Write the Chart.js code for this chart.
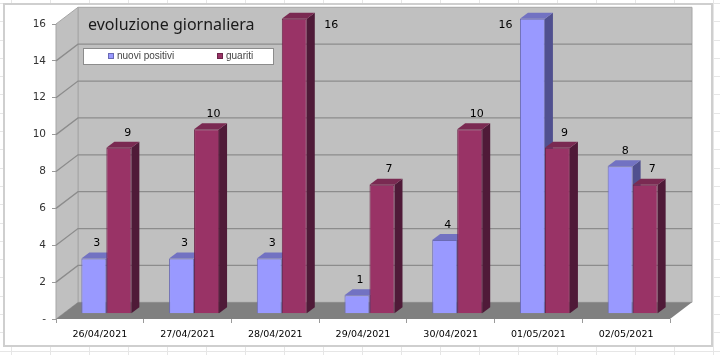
<!DOCTYPE html>
<html>
<head>
<meta charset="utf-8">
<script src="https://cdn.jsdelivr.net/npm/chart.js@4"></script>
<style>
html, body { margin: 0; padding: 0; }
body {
  width: 720px; height: 355px; overflow: hidden; position: relative; background-color: #fff;
  background-image:
    repeating-linear-gradient(to right, transparent 0 11px, #e6e6e6 11px 12px, transparent 12px 39px),
    repeating-linear-gradient(to bottom, transparent 0 3px, #e6e6e6 3px 4px, transparent 4px 18.3px);
}
#frame { position: absolute; left: 3px; top: 3px; width: 706px; height: 340px; background: #fff; border: 2px solid #cfcfcf; }
#myChart { position: absolute; left: 0; top: 0; }
</style>
</head>
<body>
<div id="frame"></div>
<canvas id="myChart" width="720" height="355"></canvas>
<script>
const days = ["26/04/2021","27/04/2021","28/04/2021","29/04/2021","30/04/2021","01/05/2021","02/05/2021"];
const nuoviPositivi = [3,3,3,1,4,16,8];
const guariti = [9,10,16,7,10,9,7];
const titleText = "evoluzione giornaliera";

// depth of the fake 3d box and of the bars inside it
const wallDX = 22, wallDY = -16.7;
const barShiftX = 6.5, barShiftY = -5.3;
const barDX = 8, barDY = -6;

const faces = [
  {side: "#50508f", top: "#7272c2"},
  {side: "#4f1a38", top: "#7a2a52"}
];
// value labels sit off to the side of the bar, the two 16s even more
const labelOffset = [[3,-15],[7,-15]];
const labelOverride = {"0-5": [-27,6], "1-2": [37,6], "0-6": [5,-15], "1-0": [9,-15]};

function poly(ctx, pts, fill, stroke) {
  ctx.beginPath();
  pts.forEach((p,i) => i ? ctx.lineTo(p[0],p[1]) : ctx.moveTo(p[0],p[1]));
  ctx.closePath();
  ctx.fillStyle = fill;
  ctx.fill();
  if (stroke) { ctx.strokeStyle = stroke; ctx.lineWidth = 1; ctx.stroke(); }
}

const box3d = {
  id: "box3d",
  beforeDraw(chart) {
    const ctx = chart.ctx, a = chart.chartArea, y = chart.scales.y;
    ctx.save();
    // back wall, side wall, floor
    poly(ctx, [[a.left+wallDX,a.top+wallDY],[a.right+wallDX,a.top+wallDY],[a.right+wallDX,a.bottom+wallDY],[a.left+wallDX,a.bottom+wallDY]], "#c0c0c0", "#a6a6a6");
    poly(ctx, [[a.left,a.top],[a.left+wallDX,a.top+wallDY],[a.left+wallDX,a.bottom+wallDY],[a.left,a.bottom]], "#c0c0c0", "#a6a6a6");
    ctx.strokeStyle = "#8c8c8c";
    ctx.lineWidth = 1.3;
    y.ticks.forEach(t => {
      const py = y.getPixelForValue(t.value);
      if (t.value === 0 || t.value === 16) return;
      ctx.beginPath();
      ctx.moveTo(a.left, py);
      ctx.lineTo(a.left+wallDX, py+wallDY);
      ctx.lineTo(a.right+wallDX, py+wallDY);
      ctx.stroke();
    });
    poly(ctx, [[a.left,a.bottom],[a.right,a.bottom],[a.right+wallDX,a.bottom+wallDY],[a.left+wallDX,a.bottom+wallDY]], "#808080");
    ctx.restore();
  },
  beforeDatasetsDraw(chart) {
    const ctx = chart.ctx;
    ctx.save();
    ctx.translate(barShiftX, barShiftY);
    // side and top faces first, the library paints the fronts over them
    chart.data.datasets.forEach((ds, d) => {
      const f = faces[d];
      chart.getDatasetMeta(d).data.forEach(bar => {
        const l = bar.x - bar.width/2, r = bar.x + bar.width/2;
        poly(ctx, [[r,bar.y],[r+barDX,bar.y+barDY],[r+barDX,bar.base+barDY],[r,bar.base]], f.side);
        poly(ctx, [[l,bar.y],[l+barDX,bar.y+barDY],[r+barDX,bar.y+barDY],[r,bar.y]], f.top);
      });
    });
  },
  afterDatasetsDraw(chart) {
    const ctx = chart.ctx;
    ctx.font = "11px 'DejaVu Sans'";
    ctx.fillStyle = "#000";
    ctx.textAlign = "center";
    ctx.textBaseline = "middle";
    chart.data.datasets.forEach((ds, d) => {
      chart.getDatasetMeta(d).data.forEach((bar, i) => {
        const off = labelOverride[d + "-" + i] || labelOffset[d];
        ctx.fillText(ds.data[i], bar.x + off[0], bar.y + off[1]);
      });
    });
    ctx.restore();
  },
  afterDraw(chart) {
    const ctx = chart.ctx;
    ctx.save();
    ctx.textBaseline = "middle";
    ctx.textAlign = "left";
    ctx.fillStyle = "#1a1a1a";
    ctx.font = "16px 'Noto Sans'";
    ctx.fillText(titleText, 88, 25);
    // legend box
    ctx.fillStyle = "#fff";
    ctx.strokeStyle = "#8c8c8c";
    ctx.lineWidth = 1;
    ctx.fillRect(83.5, 48.5, 190, 16);
    ctx.strokeRect(83.5, 48.5, 190, 16);
    ctx.font = "10px 'Liberation Sans'";
    [108, 217].forEach((x, d) => {
      const ds = chart.data.datasets[d];
      ctx.fillStyle = ds.backgroundColor;
      ctx.strokeStyle = ds.borderColor;
      ctx.fillRect(x+.5, 53.5, 5, 5);
      ctx.strokeRect(x+.5, 53.5, 5, 5);
      ctx.fillStyle = "#444";
      ctx.fillText(ds.label, x+9, 56.5);
    });
    ctx.restore();
  }
};

const chart = new Chart(document.getElementById("myChart").getContext("2d"), {
  type: "bar",
  data: {
    labels: days,
    datasets: [{
      label: "nuovi positivi",
      data: nuoviPositivi,
      backgroundColor: "#9999ff",
      borderColor: "#6a6ab4",
      borderWidth: 1,
      clip: false
    },{
      label: "guariti",
      data: guariti,
      backgroundColor: "#993366",
      borderColor: "#6e2449",
      borderWidth: 1,
      clip: false
    }]
  },
  options: {
    responsive: false,
    animation: false,
    categoryPercentage: 0.57,
    barPercentage: 1,
    layout: {padding: {top: 24, right: 50, left: 0, bottom: 0}},
    plugins: {legend: {display: false}, title: {display: false}, tooltip: {enabled: false}},
    scales: {
      x: {
        afterFit(s) { s.height = 36; },
        grid: {drawOnChartArea: false, tickLength: 4, color: "#9a9a9a"},
        border: {display: false},
        ticks: {font: {family: "DejaVu Sans", size: 9.5}, color: "#000", maxRotation: 0, padding: 6}
      },
      y: {
        min: 0,
        max: 16,
        afterFit(s) { s.width = 56; },
        grid: {drawOnChartArea: false, tickLength: 4, color: "#9a9a9a"},
        border: {display: false},
        ticks: {
          stepSize: 2,
          font: {family: "DejaVu Sans", size: 10.5},
          color: "#333",
          padding: 6,
          callback: v => v === 0 ? "-" : v
        }
      }
    }
  },
  plugins: [box3d]
});
</script>
</body>
</html>
